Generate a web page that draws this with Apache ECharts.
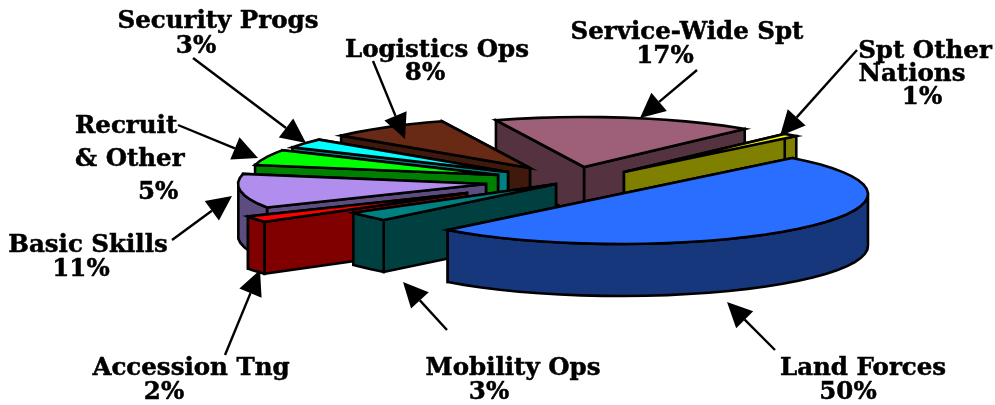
<!DOCTYPE html>
<html>
<head>
<meta charset="utf-8">
<script src="https://cdn.jsdelivr.net/npm/echarts@6/dist/echarts.min.js"></script>
<style>
  html, body { margin: 0; padding: 0; background: #fff; }
  #chart { width: 995px; height: 405px; }
</style>
</head>
<body>
<div id="chart"></div>
<script>
// clockwise from the land forces slice
const names = ['Land Forces', 'Mobility Ops', 'Accession Tng', 'Basic Skills', 'Recruit & Other',
  'Security Progs', 'Logistics Ops', 'Service-Wide Spt', 'Spt Other Nations']
const shares = [50, 3, 2, 11, 5, 3, 8, 17, 1]

// colours, same order as names
const topColors = ['#2a6eff', '#008080', '#ff0000', '#b18eee', '#00ff00', '#00ffff', '#692a15', '#9e6078', '#ffff00']
const sideColors = ['#16377c', '#004040', '#800000', '#5c4c7f', '#008000', '#008080', '#40190d', '#55323f', '#808000']

// where the tip of each exploded slice sits
const tips = [[620, 194], [556, 184], [467, 193], [486, 184], [498, 175], [508, 172], [530, 168], [584, 167], [624, 172]]
const drawOrder = [7, 8, 6, 5, 4, 3, 2, 1, 0]

const rx = 248
const ry = 50
const depth = 52
const firstAngle = -46

// text: [string, x, y, align]
const labels = [
  ['Security Progs', 218, 22, 'center'], ['3%', 196, 47, 'center'],
  ['Logistics Ops', 437, 51, 'center'], ['8%', 425, 74, 'center'],
  ['Service-Wide Spt', 687, 33, 'center'], ['17%', 665, 57, 'center'],
  ['Spt Other', 925, 52, 'center'], ['Nations', 912, 75, 'center'], ['1%', 922, 98, 'center'],
  ['Recruit', 75, 127, 'left'], ['& Other', 75, 160, 'left'], ['5%', 138, 193, 'left'],
  ['Basic Skills', 88, 246, 'center'], ['11%', 81, 270, 'center'],
  ['Accession Tng', 191, 369, 'center'], ['2%', 164, 393, 'center'],
  ['Mobility Ops', 513, 369, 'center'], ['3%', 489, 393, 'center'],
  ['Land Forces', 863, 369, 'center'], ['50%', 848, 393, 'center']
]

// arrows: [fromX, fromY, tipX, tipY]
const arrows = [
  [193, 58, 306, 143], [373, 61, 405, 139], [697, 70, 640, 118], [857, 50, 780, 136],
  [178, 125, 258, 158], [172, 240, 232, 196], [225, 355, 260, 270], [447, 330, 403, 282], [775, 350, 727, 302]
]

const angleStarts = []
let sum = 0
shares.forEach(v => {
  angleStarts.push(firstAngle + sum / 100 * 360)
  sum += v
})

const rim = (tip, deg) => {
  const a = deg * Math.PI / 180
  return [tip[0] + rx * Math.cos(a), tip[1] + ry * Math.sin(a)]
}
const down = p => [p[0], p[1] + depth]

const sliceStyle = color => ({fill: color, stroke: '#000', lineWidth: 2.6, lineJoin: 'miter'})

const renderSlice = (params, api) => {
  const i = api.value(0)
  const from = angleStarts[i]
  const to = from + api.value(1) / 100 * 360
  const tip = tips[i]
  const side = sliceStyle(sideColors[i])
  const children = []

  // rim points every few degrees, the original is rather coarse too
  const arc = []
  for (let d = from; d < to; d += 5) arc.push(d)
  arc.push(to)

  const wall = deg => {
    const p = rim(tip, deg)
    return {type: 'polygon', shape: {points: [tip, p, down(p), down(tip)]}, style: side}
  }
  children.push(wall(to))
  children.push(wall(from))

  // outer wall, only the part facing us
  const front = arc.filter(d => Math.sin(d * Math.PI / 180) > -0.02)
  if (front.length > 1) {
    const upper = front.map(d => rim(tip, d))
    children.push({
      type: 'polygon',
      shape: {points: upper.concat(upper.map(down).reverse())},
      style: side
    })
  }

  children.push({
    type: 'polygon',
    shape: {points: [tip].concat(arc.map(d => rim(tip, d)))},
    style: sliceStyle(topColors[i])
  })
  return {type: 'group', children}
}

const textElements = labels.map(l => ({
  type: 'text',
  x: l[1],
  y: l[2],
  z: 10,
  style: {
    text: l[0],
    fill: '#000',
    stroke: '#000',
    lineWidth: 0.5,
    font: 'bold 24.5px "DejaVu Serif"',
    textAlign: l[3],
    textVerticalAlign: 'middle'
  }
}))

const arrowElements = []
arrows.forEach(a => {
  const len = Math.hypot(a[2] - a[0], a[3] - a[1])
  const ux = (a[2] - a[0]) / len
  const uy = (a[3] - a[1]) / len
  const bx = a[2] - ux * 25
  const by = a[3] - uy * 25
  arrowElements.push({
    type: 'line',
    z: 11,
    shape: {x1: a[0], y1: a[1], x2: bx, y2: by},
    style: {stroke: '#000', lineWidth: 2.4}
  })
  arrowElements.push({
    type: 'polygon',
    z: 11,
    shape: {points: [[a[2], a[3]], [bx - uy * 12, by + ux * 12], [bx + uy * 12, by - ux * 12]]},
    style: {fill: '#000'}
  })
})

const chart = echarts.init(document.getElementById('chart'), null, {renderer: 'canvas'})
chart.setOption({
  animation: false,
  backgroundColor: '#fff',
  graphic: {elements: textElements.concat(arrowElements)},
  series: [{
    type: 'custom',
    coordinateSystem: 'none',
    silent: true,
    clip: false,
    renderItem: renderSlice,
    dimensions: ['index', 'share', 'name'],
    encode: {value: 1},
    data: drawOrder.map(i => [i, shares[i], names[i]])
  }]
})
</script>
</body>
</html>
